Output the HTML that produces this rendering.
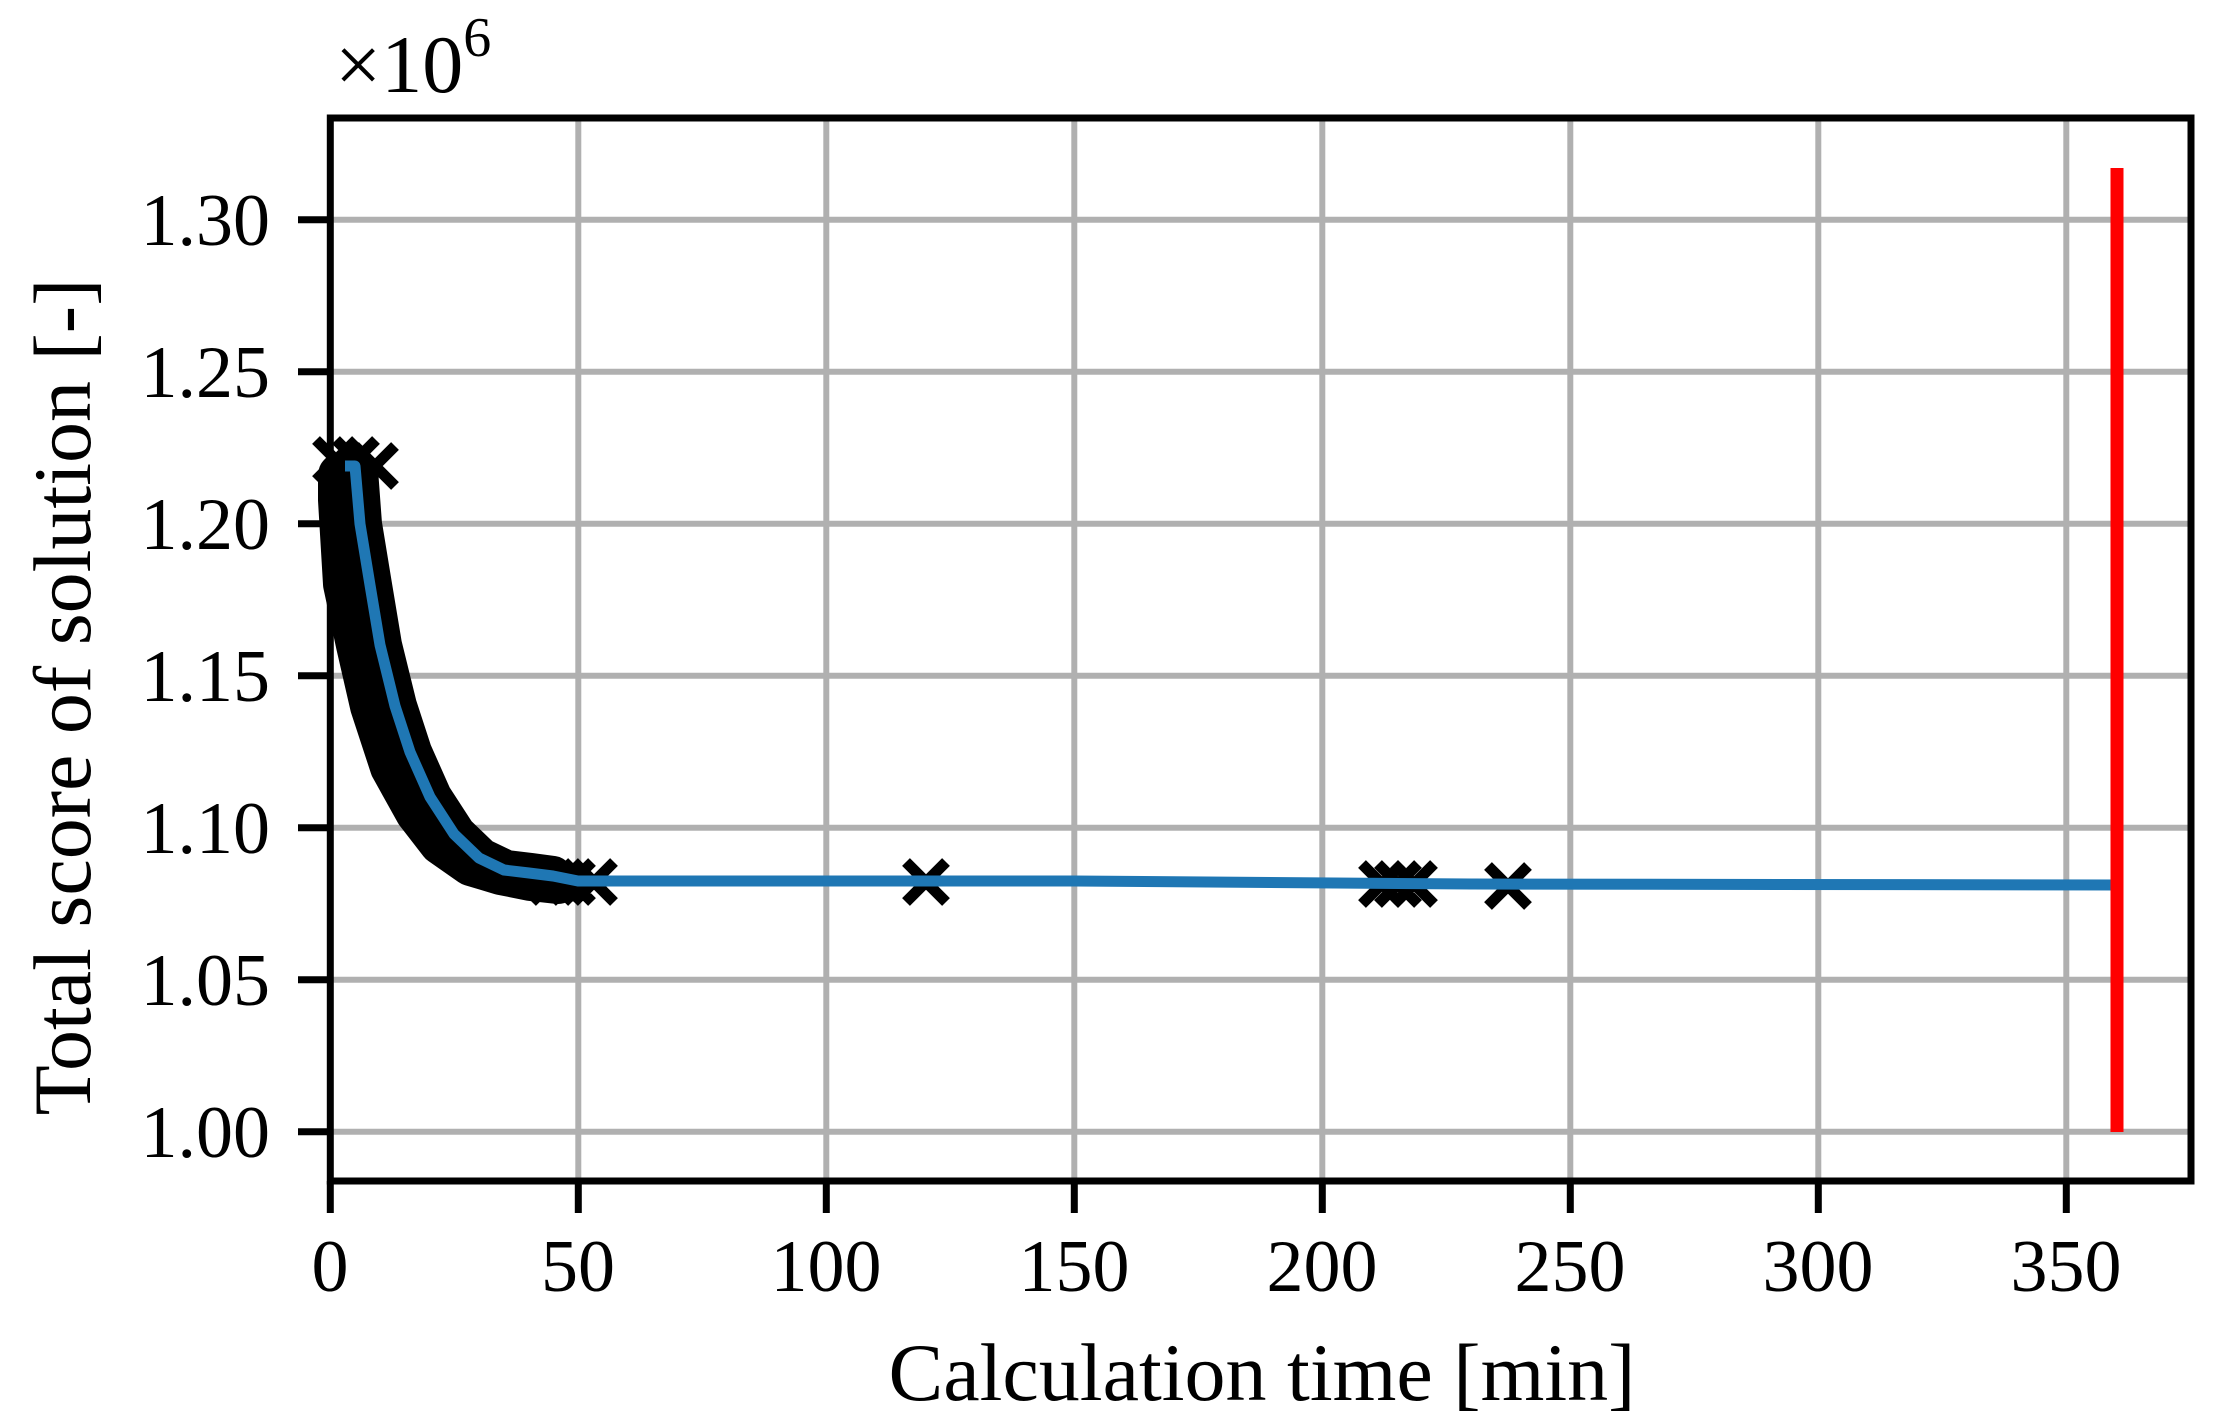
<!DOCTYPE html>
<html><head><meta charset="utf-8"><style>
html,body{margin:0;padding:0;background:#fff;}
svg{display:block;font-family:"Liberation Serif",serif;}
</style></head><body>
<svg width="2228" height="1426" viewBox="0 0 2228 1426" xmlns="http://www.w3.org/2000/svg">
<g stroke="#b0b0b0" stroke-width="6">
<line x1="578.3" y1="118" x2="578.3" y2="1181"/><line x1="826.3" y1="118" x2="826.3" y2="1181"/>
<line x1="1074.3" y1="118" x2="1074.3" y2="1181"/><line x1="1322.3" y1="118" x2="1322.3" y2="1181"/>
<line x1="1570.3" y1="118" x2="1570.3" y2="1181"/><line x1="1818.3" y1="118" x2="1818.3" y2="1181"/>
<line x1="2066.3" y1="118" x2="2066.3" y2="1181"/>
<line x1="330" y1="219.7" x2="2191" y2="219.7"/><line x1="330" y1="371.7" x2="2191" y2="371.7"/>
<line x1="330" y1="523.7" x2="2191" y2="523.7"/><line x1="330" y1="675.7" x2="2191" y2="675.7"/>
<line x1="330" y1="827.7" x2="2191" y2="827.7"/><line x1="330" y1="979.7" x2="2191" y2="979.7"/>
<line x1="330" y1="1131.7" x2="2191" y2="1131.7"/>
</g>
<g fill="none" stroke="#000" stroke-linejoin="round" stroke-linecap="round">
<polyline stroke-width="44" points="340,475 340,500 345,584 358,645 372,706 392,767 417,812 441,843 471,864 501,873 531,879 558,882"/>
<polyline stroke-width="40" points="350,470 358,470 362,524 372,585 382,645 397,706 412,752 432,797 456,834 481,858 506,870 531,873 553,876"/>
</g>
<g stroke="#000" stroke-width="11">
<path d="M316,440l40,40M356,440l-40,40M336,440l40,40M376,440l-40,40M355,446l40,40M395,446l-40,40M532,862l40,40M572,862l-40,40M552,862l40,40M592,862l-40,40M574,862l40,40M614,862l-40,40M906,862l40,40M946,862l-40,40M1362,864l40,40M1402,864l-40,40M1378,864l40,40M1418,864l-40,40M1394,864l40,40M1434,864l-40,40M1488,866l40,40M1528,866l-40,40"/>
</g>
<polyline fill="none" stroke="#1f77b4" stroke-width="11" stroke-linejoin="round" points="345,466 355,466 360,524 370,585 380,645 395,706 410,752 430,797 454,834 479,858 504,870 529,873 553,876 578,881 1074,881 1471,884 2122,885"/>
<line x1="2117" y1="168" x2="2117" y2="1132" stroke="#ff0000" stroke-width="13"/>
<rect x="330.3" y="118" width="1860.7" height="1063" fill="none" stroke="#000" stroke-width="7"/>
<g stroke="#000" stroke-width="7">
<line x1="330.3" y1="1181" x2="330.3" y2="1213"/><line x1="578.3" y1="1181" x2="578.3" y2="1213"/>
<line x1="826.3" y1="1181" x2="826.3" y2="1213"/><line x1="1074.3" y1="1181" x2="1074.3" y2="1213"/>
<line x1="1322.3" y1="1181" x2="1322.3" y2="1213"/><line x1="1570.3" y1="1181" x2="1570.3" y2="1213"/>
<line x1="1818.3" y1="1181" x2="1818.3" y2="1213"/><line x1="2066.3" y1="1181" x2="2066.3" y2="1213"/>
<line x1="298" y1="219.7" x2="330" y2="219.7"/><line x1="298" y1="371.7" x2="330" y2="371.7"/>
<line x1="298" y1="523.7" x2="330" y2="523.7"/><line x1="298" y1="675.7" x2="330" y2="675.7"/>
<line x1="298" y1="827.7" x2="330" y2="827.7"/><line x1="298" y1="979.7" x2="330" y2="979.7"/>
<line x1="298" y1="1131.7" x2="330" y2="1131.7"/>
</g>
<g font-size="74" fill="#000" text-anchor="middle">
<text x="330" y="1291">0</text><text x="578" y="1291">50</text><text x="826" y="1291">100</text>
<text x="1074" y="1291">150</text><text x="1322" y="1291">200</text><text x="1570" y="1291">250</text>
<text x="1818" y="1291">300</text><text x="2066" y="1291">350</text>
</g>
<g font-size="74" fill="#000" text-anchor="end">
<text x="270" y="245">1.30</text><text x="270" y="397">1.25</text><text x="270" y="549">1.20</text>
<text x="270" y="701">1.15</text><text x="270" y="853">1.10</text><text x="270" y="1005">1.05</text>
<text x="270" y="1157">1.00</text>
</g>
<text x="335" y="92" font-size="82" fill="#000">×10<tspan font-size="56" dy="-36">6</tspan></text>
<text x="1262" y="1400" font-size="82" fill="#000" text-anchor="middle">Calculation time [min]</text>
<text transform="translate(90,697) rotate(-90)" font-size="82" fill="#000" text-anchor="middle">Total score of solution [-]</text>
</svg>
</body></html>
